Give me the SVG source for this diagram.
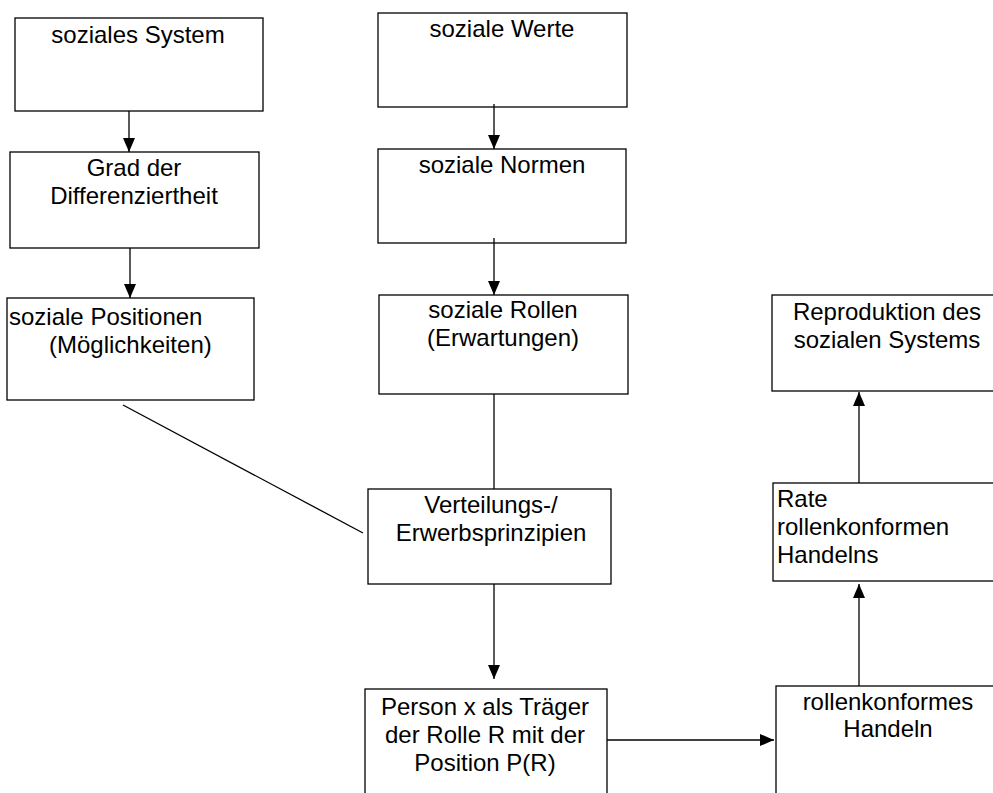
<svg xmlns="http://www.w3.org/2000/svg" width="993" height="793" viewBox="0 0 993 793">
<style>
.box{fill:#fff;stroke:#000;stroke-width:1.3}
.t{font-family:"Liberation Sans",Arial,sans-serif;font-size:24px;fill:#000}
.c{text-anchor:middle}
.ln{stroke:#000;stroke-width:1.3;fill:none}
</style>
<defs>
<marker id="ah" viewBox="0 0 14 12" refX="14" refY="6" markerWidth="14" markerHeight="12" markerUnits="userSpaceOnUse" orient="auto">
<path d="M0,0 L14,6 L0,12 Z" fill="#000"/>
</marker>
</defs>
<rect width="993" height="793" fill="#fff"/>
<g id="n-system"><rect class="box" x="15" y="18" width="248" height="93"/><text class="t c" x="138" y="43">soziales System</text></g>
<g id="n-grad"><rect class="box" x="10" y="152" width="249" height="96"/><text class="t c" x="134" y="176">Grad der</text><text class="t c" x="134" y="204">Differenziertheit</text></g>
<g id="n-positionen"><rect class="box" x="7" y="298" width="247" height="102"/><text class="t" x="9" y="325">soziale Positionen</text><text class="t" x="49" y="353">(Möglichkeiten)</text></g>
<g id="n-werte"><rect class="box" x="378" y="13" width="249" height="94"/><text class="t c" x="502" y="37">soziale Werte</text></g>
<g id="n-normen"><rect class="box" x="378" y="149" width="248" height="94"/><text class="t c" x="502" y="173">soziale Normen</text></g>
<g id="n-rollen"><rect class="box" x="379" y="295" width="249" height="99"/><text class="t c" x="503" y="318">soziale Rollen</text><text class="t c" x="503" y="346">(Erwartungen)</text></g>
<g id="n-verteilung"><rect class="box" x="368" y="489" width="243" height="95"/><text class="t c" x="491" y="513">Verteilungs-/</text><text class="t c" x="491" y="541">Erwerbsprinzipien</text></g>
<g id="n-person"><rect class="box" x="365" y="689" width="242" height="120"/><text class="t c" x="485" y="715">Person x als Träger</text><text class="t c" x="485" y="743">der Rolle R mit der</text><text class="t c" x="485" y="771">Position P(R)</text></g>
<g id="n-handeln"><rect class="box" x="776" y="686" width="230" height="120"/><text class="t c" x="888" y="710">rollenkonformes</text><text class="t c" x="888" y="737">Handeln</text></g>
<g id="n-rate"><rect class="box" x="773" y="483" width="230" height="98"/><text class="t" x="777" y="507">Rate</text><text class="t" x="777" y="535">rollenkonformen</text><text class="t" x="777" y="563">Handelns</text></g>
<g id="n-reproduktion"><rect class="box" x="772" y="295" width="230" height="96"/><text class="t c" x="887" y="320">Reproduktion des</text><text class="t c" x="887" y="348">sozialen Systems</text></g>
<g id="connectors">
<line class="ln" x1="129" y1="111" x2="129" y2="152" marker-end="url(#ah)"/>
<line class="ln" x1="130" y1="248" x2="130" y2="298" marker-end="url(#ah)"/>
<line class="ln" x1="494" y1="104" x2="494" y2="149" marker-end="url(#ah)"/>
<line class="ln" x1="494" y1="238" x2="494" y2="295" marker-end="url(#ah)"/>
<line class="ln" x1="494" y1="394" x2="494" y2="489"/>
<line class="ln" x1="123" y1="405" x2="363" y2="533"/>
<line class="ln" x1="494" y1="584" x2="494" y2="679" marker-end="url(#ah)"/>
<line class="ln" x1="607" y1="740" x2="774" y2="740" marker-end="url(#ah)"/>
<line class="ln" x1="859" y1="686" x2="859" y2="584" marker-end="url(#ah)"/>
<line class="ln" x1="859" y1="483" x2="859" y2="392" marker-end="url(#ah)"/>
</g>
</svg>
